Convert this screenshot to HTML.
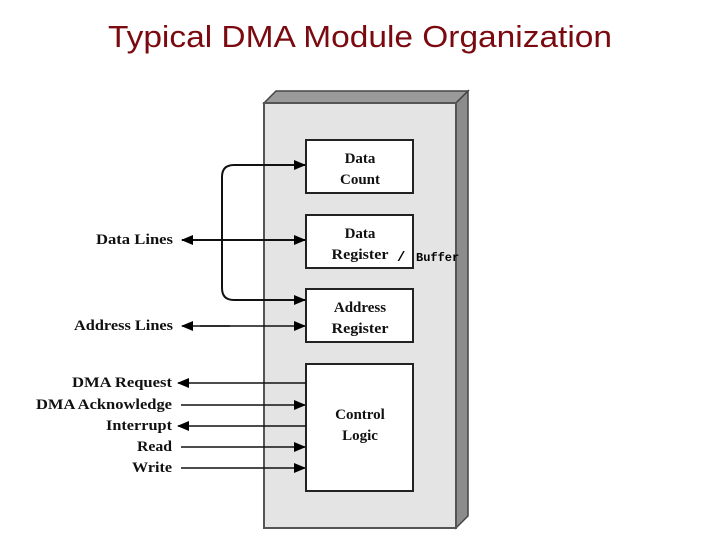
<!DOCTYPE html>
<html><head><meta charset="utf-8"><style>html,body{margin:0;padding:0;background:#fff}svg{display:block}</style></head>
<body>
<svg width="720" height="540" viewBox="0 0 720 540" xmlns="http://www.w3.org/2000/svg">
<defs>
<marker id="a" markerWidth="12" markerHeight="10" refX="11" refY="5" orient="auto" markerUnits="userSpaceOnUse"><path d="M0,0 L12,5 L0,10 Z" fill="#000"/></marker>
</defs>
<text x="360" y="47" text-anchor="middle" font-family="Liberation Sans, sans-serif" font-size="31" fill="#7a0a10" textLength="504" lengthAdjust="spacingAndGlyphs">Typical DMA Module Organization</text>
<polygon points="264,103 276,91 468,91 456,103" fill="#9a9a9a" stroke="#444" stroke-width="1.5"/>
<polygon points="456,103 468,91 468,516 456,528" fill="#8c8c8c" stroke="#444" stroke-width="1.5"/>
<rect x="264" y="103" width="192" height="425" fill="#e4e4e4" stroke="#555" stroke-width="2"/>
<g fill="#fff" stroke="#222" stroke-width="2">
<rect x="306" y="140" width="107" height="53"/>
<rect x="306" y="215" width="107" height="53"/>
<rect x="306" y="289" width="107" height="53"/>
<rect x="306" y="364" width="107" height="127"/>
</g>
<g font-family="Liberation Serif, serif" font-weight="bold" font-size="15" fill="#111" text-anchor="middle">
<text x="360" y="163">Data</text><text x="360" y="184">Count</text>
<text x="360" y="238">Data</text><text x="360" y="259" textLength="57" lengthAdjust="spacingAndGlyphs">Register</text>
<text x="360" y="312">Address</text><text x="360" y="333" textLength="57" lengthAdjust="spacingAndGlyphs">Register</text>
<text x="360" y="419">Control</text><text x="360" y="440">Logic</text>
</g>
<text x="397" y="261" font-family="Liberation Mono, monospace" font-size="14" font-weight="bold" fill="#000">/</text>
<text x="416" y="261" font-family="Liberation Mono, monospace" font-size="12" font-weight="bold" fill="#000">Buffer</text>
<g stroke="#111" stroke-width="2" fill="none">
<path d="M305,165 L234,165 Q222,165 222,177 L222,288 Q222,300 234,300 L305,300" marker-end="url(#a)"/>
<path d="M234,165 L305,165" marker-end="url(#a)"/>
<line x1="200" y1="240" x2="305" y2="240" marker-end="url(#a)"/>
<line x1="230" y1="240" x2="182" y2="240" marker-end="url(#a)"/>
<line x1="200" y1="326" x2="305" y2="326" marker-end="url(#a)" stroke-width="1.5"/>
<line x1="230" y1="326" x2="182" y2="326" marker-end="url(#a)" stroke-width="1.5"/>
<line x1="306" y1="383" x2="178" y2="383" marker-end="url(#a)" stroke-width="1.5"/>
<line x1="181" y1="405" x2="305" y2="405" marker-end="url(#a)" stroke-width="1.5"/>
<line x1="306" y1="426" x2="178" y2="426" marker-end="url(#a)" stroke-width="1.5"/>
<line x1="181" y1="447" x2="305" y2="447" marker-end="url(#a)" stroke-width="1.5"/>
<line x1="181" y1="468" x2="305" y2="468" marker-end="url(#a)" stroke-width="1.5"/>
</g>
<g font-family="Liberation Serif, serif" font-weight="bold" font-size="15" fill="#111" text-anchor="end">
<text x="173" y="244" textLength="77" lengthAdjust="spacingAndGlyphs">Data Lines</text>
<text x="173" y="330" textLength="99" lengthAdjust="spacingAndGlyphs">Address Lines</text>
<text x="172" y="387" textLength="100" lengthAdjust="spacingAndGlyphs">DMA Request</text>
<text x="172" y="409" textLength="136" lengthAdjust="spacingAndGlyphs">DMA Acknowledge</text>
<text x="172" y="430" textLength="66" lengthAdjust="spacingAndGlyphs">Interrupt</text>
<text x="172" y="451" textLength="35" lengthAdjust="spacingAndGlyphs">Read</text>
<text x="172" y="472" textLength="40" lengthAdjust="spacingAndGlyphs">Write</text>
</g>
</svg>
</body></html>
